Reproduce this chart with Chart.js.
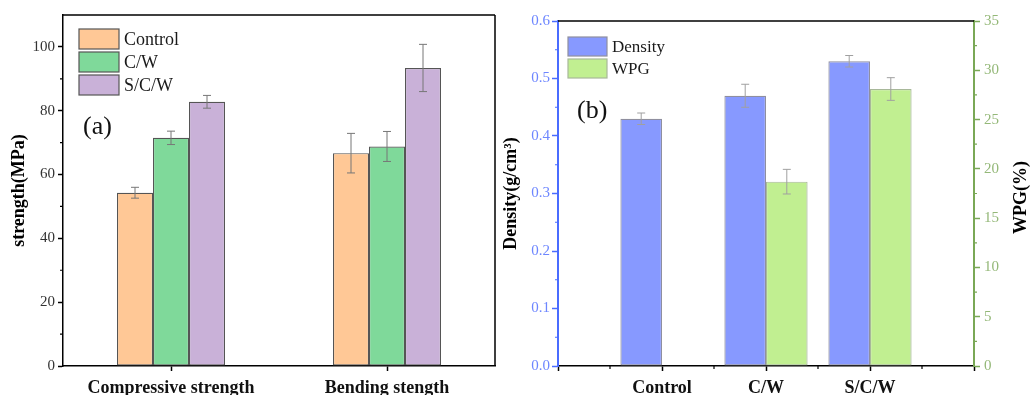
<!DOCTYPE html>
<html>
<head>
<meta charset="utf-8">
<script src="https://cdn.jsdelivr.net/npm/chart.js@4.4.1/dist/chart.umd.min.js"></script>
<style>
  html, body { margin: 0; padding: 0; background: #fff; }
  #wrap { position: relative; width: 1030px; height: 395px; overflow: hidden; }
  #chartA { position: absolute; left: 0; top: 0; }
  #chartB { position: absolute; left: 500px; top: 0; }
</style>
</head>
<body>
<div id="wrap">
  <canvas id="chartA" width="500" height="395"></canvas>
  <canvas id="chartB" width="530" height="395"></canvas>
</div>
<script>
// --- datos (a): resistencia ---
const strengthCategories = ['Compressive strength', 'Bending stength'];
const controlStrength = [54.3, 66.7];
const cwStrength = [71.5, 68.8];
const scwStrength = [82.8, 93.4];
const controlStrengthErr = [1.7, 6.2];
const cwStrengthErr = [2.1, 4.7];
const scwStrengthErr = [2.0, 7.4];
const strengthTicks = [0, 20, 40, 60, 80, 100];

// --- datos (b): densidad y WPG ---
const sampleCategories = ['Control', 'C/W', 'S/C/W'];
const densityValues = [0.43, 0.47, 0.53];
const densityErr = [0.01, 0.02, 0.01];
const wpgValues = [null, 18.7, 28.1];
const wpgErr = [null, 1.25, 1.15];
const densityTicks = [0, 0.1, 0.2, 0.3, 0.4, 0.5, 0.6];
const wpgTicks = [0, 5, 10, 15, 20, 25, 30, 35];

const SERIF = "'Liberation Serif', 'Times New Roman', serif";

// barras de error (dibujadas con las escalas del chart)
const errorBarsPlugin = {
    id: 'errorBars',
    afterDatasetsDraw(chart, args, opts) {
        const ctx = chart.ctx;
        chart.data.datasets.forEach((ds, i) => {
            if (!ds.errors) return;
            const meta = chart.getDatasetMeta(i);
            const yScale = chart.scales[meta.yAxisID];
            meta.data.forEach((bar, j) => {
                const v = ds.data[j];
                const e = ds.errors[j];
                if (v == null || e == null) return;
                const yTop = yScale.getPixelForValue(v + e);
                const yBot = yScale.getPixelForValue(v - e);
                ctx.save();
                ctx.strokeStyle = opts.color;
                ctx.lineWidth = 1;
                ctx.beginPath();
                ctx.moveTo(bar.x, yTop); ctx.lineTo(bar.x, yBot);
                ctx.moveTo(bar.x - 4, yTop); ctx.lineTo(bar.x + 4, yTop);
                ctx.moveTo(bar.x - 4, yBot); ctx.lineTo(bar.x + 4, yBot);
                ctx.stroke();
                ctx.restore();
            });
        });
    }
};

// ticks menores a mitad de camino entre ticks mayores
const minorTicksPlugin = {
    id: 'minorTicks',
    afterDraw(chart, args, opts) {
        const ctx = chart.ctx;
        (opts.scales || []).forEach(id => {
            const scale = chart.scales[id];
            const vals = scale.ticks.map(t => t.value);
            const color = scale.options.border.color;
            const len = 3;
            ctx.save();
            ctx.strokeStyle = color;
            ctx.lineWidth = 1.2;
            ctx.beginPath();
            for (let i = 0; i < vals.length - 1; i++) {
                const p = scale.getPixelForValue((vals[i] + vals[i + 1]) / 2);
                if (scale.position === 'left') {
                    ctx.moveTo(scale.right, p); ctx.lineTo(scale.right - len, p);
                } else if (scale.position === 'right') {
                    ctx.moveTo(scale.left, p); ctx.lineTo(scale.left + len, p);
                } else {
                    ctx.moveTo(p, scale.top); ctx.lineTo(p, scale.top + len);
                }
            }
            ctx.stroke();
            ctx.restore();
        });
    }
};

// marco, leyenda interna, etiqueta del panel y título derecho
const frameLegendPlugin = {
    id: 'frameLegend',
    afterDraw(chart, args, opts) {
        const ctx = chart.ctx;
        const a = chart.chartArea;
        ctx.save();
        ctx.strokeStyle = '#000';
        ctx.lineWidth = 1.5;
        ctx.beginPath();
        ctx.moveTo(a.left, a.top); ctx.lineTo(a.right, a.top);
        if (opts.rightEdge) { ctx.moveTo(a.right, a.top); ctx.lineTo(a.right, a.bottom); }
        ctx.stroke();

        // leyenda
        const lg = opts.legend;
        chart.data.datasets.forEach((ds, i) => {
            const x = a.left + lg.x;
            const y = a.top + lg.y + i * lg.row;
            ctx.fillStyle = ds.backgroundColor;
            ctx.fillRect(x, y, lg.boxW, lg.boxH);
            ctx.strokeStyle = ds.borderColor;
            ctx.lineWidth = 1.2;
            ctx.strokeRect(x, y, lg.boxW, lg.boxH);
            ctx.fillStyle = '#1a1a1a';
            ctx.font = lg.font + 'px ' + SERIF;
            ctx.textBaseline = 'middle';
            ctx.textAlign = 'left';
            ctx.fillText(ds.label, x + lg.boxW + 5, y + lg.boxH / 2 + 1);
        });

        // (a) / (b)
        ctx.fillStyle = '#111';
        ctx.font = '26px ' + SERIF;
        ctx.textBaseline = 'middle';
        ctx.fillText(opts.panel.text, a.left + opts.panel.x, a.top + opts.panel.y);

        // título del eje derecho, leído de abajo hacia arriba
        if (opts.sideTitle) {
            const s = chart.scales[opts.sideTitle.scale];
            ctx.translate(s.right - opts.sideTitle.offset, (a.top + a.bottom) / 2 + 4);
            ctx.rotate(-Math.PI / 2);
            ctx.fillStyle = '#000';
            ctx.font = 'bold 18px ' + SERIF;
            ctx.textAlign = 'center';
            ctx.fillText(opts.sideTitle.text, 0, 0);
        }
        ctx.restore();
    }
};

Chart.register(errorBarsPlugin, minorTicksPlugin, frameLegendPlugin);

// ---------- (a) ----------
new Chart(document.getElementById('chartA'), {
    type: 'bar',
    data: {
        labels: strengthCategories,
        datasets: [
            { label: 'Control', data: controlStrength, errors: controlStrengthErr,
              backgroundColor: '#ffc896', borderColor: '#555555' },
            { label: 'C/W', data: cwStrength, errors: cwStrengthErr,
              backgroundColor: '#7fd99a', borderColor: '#555555' },
            { label: 'S/C/W', data: scwStrength, errors: scwStrengthErr,
              backgroundColor: '#c9b1d8', borderColor: '#555555' }
        ]
    },
    options: {
        responsive: false,
        animation: false,
        devicePixelRatio: 1,
        layout: { padding: { top: 15, right: 5, left: 0, bottom: 0 } },
        datasets: { bar: { categoryPercentage: 0.5, barPercentage: 1, borderWidth: 1.2, borderSkipped: false } },
        scales: {
            x: {
                grid: { drawOnChartArea: false, offset: false, tickLength: 5, tickColor: '#000', tickWidth: 1.5 },
                border: { display: true, color: '#000', width: 1.5 },
                ticks: { color: '#111', padding: 7, font: { family: SERIF, size: 18, weight: 'bold' } },
                afterFit: s => { s.height = 29; }
            },
            y: {
                min: 0, max: 110,
                afterBuildTicks: s => { s.ticks = strengthTicks.map(v => ({ value: v })); },
                grid: { drawOnChartArea: false, tickLength: 5, tickColor: '#000', tickWidth: 1.5 },
                border: { display: true, color: '#000', width: 1.5 },
                ticks: { color: '#333', padding: 3, font: { family: SERIF, size: 15 } },
                title: { display: true, text: 'strength(MPa)', color: '#000', padding: { top: 9, bottom: 0 },
                         font: { family: SERIF, size: 18, weight: 'bold' } },
                afterFit: s => { s.width = 63; }
            }
        },
        plugins: {
            legend: { display: false },
            tooltip: { enabled: false },
            errorBars: { color: '#777777' },
            minorTicks: { scales: ['y'] },
            frameLegend: {
                rightEdge: true,
                legend: { x: 16, y: 14, row: 23, boxW: 40, boxH: 20, font: 18 },
                panel: { text: '(a)', x: 20, y: 112 }
            }
        }
    }
});

// ---------- (b) ----------
new Chart(document.getElementById('chartB'), {
    type: 'bar',
    data: {
        labels: ['', ...sampleCategories, ''],
        datasets: [
            { label: 'Density', data: [null, ...densityValues, null], errors: [null, ...densityErr, null],
              backgroundColor: '#8799ff', borderColor: '#8f8f9f', yAxisID: 'y' },
            { label: 'WPG', data: [null, ...wpgValues, null], errors: [null, ...wpgErr, null],
              backgroundColor: '#c1ef91', borderColor: '#a8b89a', yAxisID: 'y1' }
        ]
    },
    options: {
        responsive: false,
        animation: false,
        devicePixelRatio: 1,
        layout: { padding: { top: 21, right: 0, left: 0, bottom: 0 } },
        datasets: { bar: { categoryPercentage: 0.8, barPercentage: 1, borderWidth: 1.2, borderSkipped: false } },
        scales: {
            x: {
                offset: false,
                grid: { drawOnChartArea: false, offset: false, tickLength: 5, tickColor: '#000', tickWidth: 1.5 },
                border: { display: true, color: '#000', width: 1.5 },
                ticks: { color: '#111', padding: 7, autoSkip: false, maxRotation: 0,
                         font: { family: SERIF, size: 18, weight: 'bold' } },
                afterFit: s => { s.height = 29; }
            },
            y: {
                position: 'left',
                min: 0, max: 0.6,
                afterBuildTicks: s => { s.ticks = densityTicks.map(v => ({ value: v })); },
                grid: { drawOnChartArea: false, tickLength: 6, tickColor: '#4a6cff', tickWidth: 1.5 },
                border: { display: true, color: '#4a6cff', width: 2 },
                ticks: { color: '#6d86ff', padding: 2, font: { family: SERIF, size: 15 },
                         callback: v => v.toFixed(1) },
                title: { display: true, text: 'Density(g/cm³)', color: '#000', padding: { top: 1, bottom: 0 },
                         font: { family: SERIF, size: 18, weight: 'bold' } },
                afterFit: s => { s.width = 58; }
            },
            y1: {
                position: 'right',
                min: 0, max: 35,
                afterBuildTicks: s => { s.ticks = wpgTicks.map(v => ({ value: v })); },
                grid: { drawOnChartArea: false, tickLength: 6, tickColor: '#7aa856', tickWidth: 1.5 },
                border: { display: true, color: '#7aa856', width: 2 },
                ticks: { color: '#94b878', padding: 4, font: { family: SERIF, size: 15 } },
                afterFit: s => { s.width = 56; }
            }
        },
        plugins: {
            legend: { display: false },
            tooltip: { enabled: false },
            errorBars: { color: '#a0a0a0' },
            minorTicks: { scales: ['x', 'y', 'y1'] },
            frameLegend: {
                rightEdge: false,
                legend: { x: 10, y: 16, row: 22, boxW: 39, boxH: 19, font: 17 },
                panel: { text: '(b)', x: 19, y: 90 },
                sideTitle: { scale: 'y1', text: 'WPG(%)', offset: 9 }
            }
        }
    }
});
</script>
</body>
</html>
